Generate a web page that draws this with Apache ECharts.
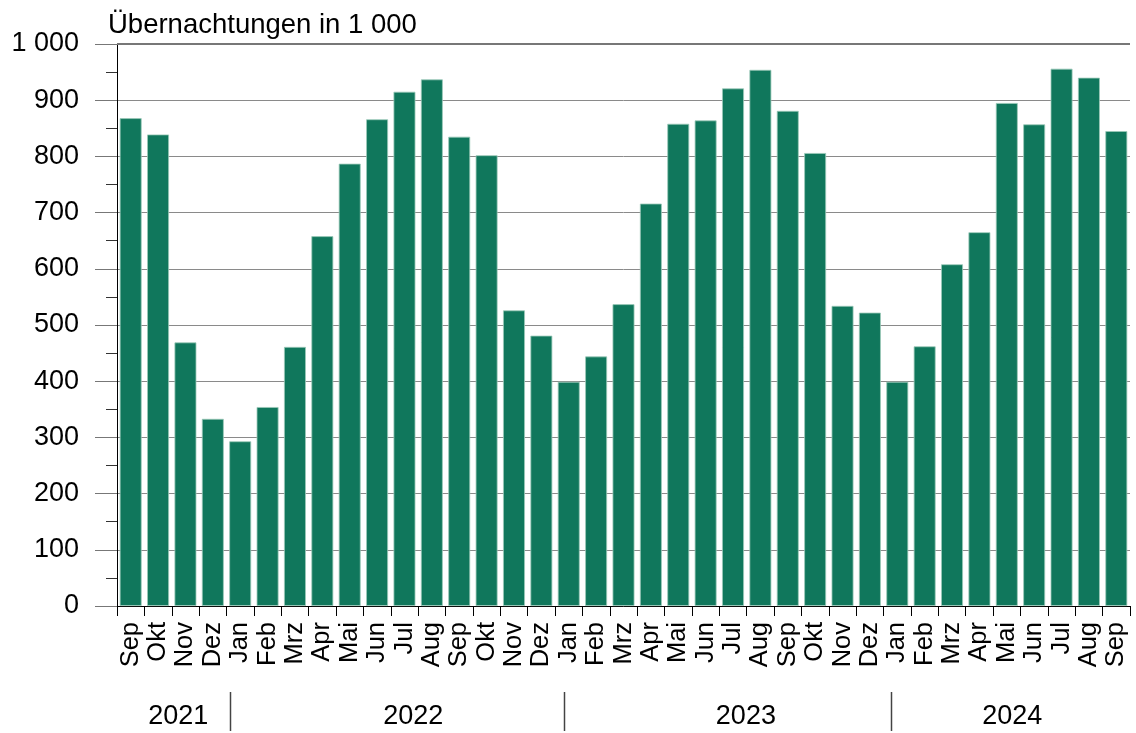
<!DOCTYPE html>
<html><head><meta charset="utf-8">
<script src="https://cdn.jsdelivr.net/npm/echarts@6/dist/echarts.min.js"></script>
<style>html,body{margin:0;padding:0;background:#fff}#c{width:1136px;height:733px}</style>
</head><body><div id="c"></div>
<script>
const months = ['Sep','Okt','Nov','Dez',
  'Jan','Feb','Mrz','Apr','Mai','Jun','Jul','Aug','Sep','Okt','Nov','Dez',
  'Jan','Feb','Mrz','Apr','Mai','Jun','Jul','Aug','Sep','Okt','Nov','Dez',
  'Jan','Feb','Mrz','Apr','Mai','Jun','Jul','Aug','Sep'];
const values = [868, 839, 469, 333,
  293, 354, 461, 658, 787, 866, 915, 937, 835, 802, 526, 481,
  399, 444, 537, 716, 858, 864, 921, 954, 881, 806, 534, 522,
  399, 462, 608, 665, 895, 857, 956, 940, 845];
const years = ['2021', '2022', '2023', '2024'];
const unitTitle = 'Übernachtungen in 1 000';

// layout (category-index units) for the year row
const yearLabelAt = [1.74, 10.32, 22.47, 32.2];
const separatorAt = [3.64, 15.83, 27.77];

const FONT = '"Liberation Sans", Arial, sans-serif';
const chart = echarts.init(document.getElementById('c'), null, {renderer: 'canvas'});

const fmt = v => String(v).replace(/\B(?=(\d{3})+(?!\d))/g, ' ');

chart.setOption({
  animation: false,
  backgroundColor: '#fff',
  title: {
    text: unitTitle, left: 103, top: 6,
    textStyle: {fontFamily: FONT, fontSize: 27.5, fontWeight: 'normal', color: '#000'}
  },
  grid: {left: 117, right: 6, top: 44, bottom: 127, containLabel: false},
  xAxis: {
    type: 'category', data: months,
    axisLine: {show: true, lineStyle: {color: '#000', width: 1}},
    axisTick: {show: true, alignWithLabel: false, length: 10, lineStyle: {color: '#000'}},
    axisLabel: {interval: 0, rotate: 90, margin: 16, fontFamily: FONT, fontSize: 25.5, color: '#000'},
    splitLine: {show: false}
  },
  yAxis: {
    type: 'value', min: 0, max: 1000, interval: 100,
    axisLine: {show: true, lineStyle: {color: '#000', width: 1}},
    axisTick: {show: true, length: 22, lineStyle: {color: '#777'}},
    minorTick: {show: true, splitNumber: 2, length: 11, lineStyle: {color: '#333'}},
    axisLabel: {margin: 38, fontFamily: FONT, fontSize: 27, color: '#000', formatter: fmt},
    splitLine: {show: true, lineStyle: {color: '#8a8a8a', width: 1}}
  },
  series: [{
    type: 'bar', data: values, barCategoryGap: '20%',
    itemStyle: {color: '#10775c', borderColor: '#9cc9b9', borderWidth: 0.8},
    markLine: {
      silent: true, symbol: 'none', label: {show: false},
      lineStyle: {color: '#777', width: 2, type: 'solid'},
      data: [{yAxis: 1000}]
    }
  }]
});

function drawYearRow() {
  const p0 = chart.convertToPixel({xAxisIndex: 0}, 0);
  const p1 = chart.convertToPixel({xAxisIndex: 0}, 1);
  const step = p1 - p0;
  const els = [];
  separatorAt.forEach(f => {
    const x = Math.round(p0 + f * step) + 0.5;
    els.push({type: 'line', shape: {x1: x, y1: 692, x2: x, y2: 731},
      style: {stroke: '#444', lineWidth: 1.5}, silent: true});
  });
  years.forEach((y, i) => {
    els.push({type: 'text', x: p0 + yearLabelAt[i] * step, y: 717,
      style: {text: y, font: '27px ' + FONT, fill: '#000', textAlign: 'center', textVerticalAlign: 'middle'},
      silent: true});
  });
  chart.setOption({graphic: els});
}
drawYearRow();
</script>
</body></html>
